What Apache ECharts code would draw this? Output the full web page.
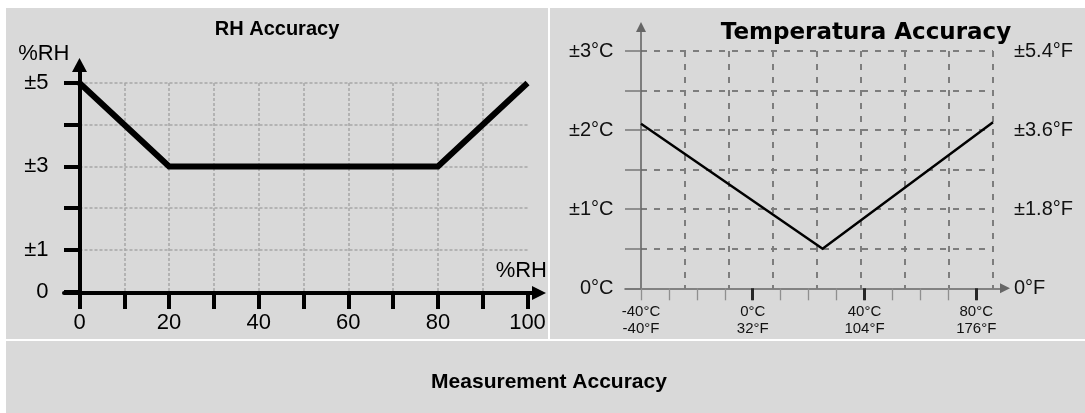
<!DOCTYPE html>
<html><head><meta charset="utf-8">
<script src="https://cdn.jsdelivr.net/npm/echarts@6/dist/echarts.min.js"></script>
<style>html,body{margin:0;padding:0;background:#fff}#c{width:1085px;height:413px}</style>
</head><body><div id="c"></div>
<script>
// ---------- data ----------
const rhX = [0, 20, 80, 100];
const rhY = [5, 3, 3, 5];
const rhXTickValues = [0, 20, 40, 60, 80, 100];
const rhXTickLabels = ['0', '20', '40', '60', '80', '100'];
const rhYTickValues = [0, 1, 3, 5];
const rhYTickLabels = ['0', '±1', '±3', '±5'];

const tempX = [-40, 25, 86];
const tempY = [2.08, 0.5, 2.1];
const tempMinorTicks = [-40, -30, -20, -10, 0, 10, 20, 30, 40, 50, 60, 70, 80];
const tempMajorTicks = [0, 40, 80];
const tempTickValues = [-40, 0, 40, 80];
const tempTickLabelsC = ['-40°C', '0°C', '40°C', '80°C'];
const tempTickLabelsF = ['-40°F', '32°F', '104°F', '176°F'];
const tempCValues = [0, 1, 2, 3];
const tempCLabels = ['0°C', '±1°C', '±2°C', '±3°C'];
const tempFValues = [0, 1.8, 3.6, 5.4];
const tempFLabels = ['0°F', '±1.8°F', '±3.6°F', '±5.4°F'];

const titles = ['RH Accuracy', 'Temperatura Accuracy', 'Measurement Accuracy'];

// ---------- helpers ----------
const SANS = "'Liberation Sans', Arial, sans-serif";
function lookup(values, labels) {
  return function (v) {
    for (let i = 0; i < values.length; i++) if (Math.abs(values[i] - v) < 1e-6) return labels[i];
    return '';
  };
}
const off = { show: false };
function bareAxis(extra) {
  return Object.assign({ type: 'value', axisLine: off, axisTick: off, axisLabel: off, splitLine: off, nameMoveOverlap: false }, extra);
}

const chart = echarts.init(document.getElementById('c'));
chart.setOption({
  backgroundColor: '#ffffff',
  animation: false,
  graphic: [
    { type: 'rect', z: -100, silent: true, shape: { x: 6, y: 8, width: 542, height: 331 }, style: { fill: '#d9d9d9' } },
    { type: 'rect', z: -100, silent: true, shape: { x: 550, y: 8, width: 535, height: 331 }, style: { fill: '#d9d9d9' } },
    { type: 'rect', z: -100, silent: true, shape: { x: 6, y: 341, width: 1079, height: 72 }, style: { fill: '#d9d9d9' } }
  ],
  title: [
    { text: titles[0], left: 277, top: 19, padding: 0, textAlign: 'center',
      textStyle: { fontFamily: SANS, fontWeight: 'bold', fontSize: 20, color: '#000' } },
    { text: titles[1], left: 866, top: 22, padding: 0, textAlign: 'center',
      textStyle: { fontFamily: "'DejaVu Sans', sans-serif", fontWeight: 'bold', fontSize: 23, color: '#000' } },
    { text: titles[2], left: 549, top: 372, padding: 0, textAlign: 'center',
      textStyle: { fontFamily: SANS, fontWeight: 'bold', fontSize: 21, color: '#000' } }
  ],
  grid: [
    { left: 79.5, top: 83, width: 448, height: 208.5, outerBoundsMode: 'none' },
    { left: 64, top: 65, width: 475, height: 228, outerBoundsMode: 'none' },
    { left: 641, top: 51, width: 352, height: 237.3, outerBoundsMode: 'none' },
    { left: 625, top: 27, width: 380, height: 261.3, outerBoundsMode: 'none' }
  ],
  xAxis: [
    // 0: RH data axis
    bareAxis({ gridIndex: 0, min: 0, max: 100, interval: 10, position: 'bottom',
      axisTick: { show: true, inside: false, length: 17.5, lineStyle: { color: '#000', width: 4 } },
      axisLabel: { show: true, margin: 20, fontFamily: SANS, fontSize: 22, color: '#000',
        formatter: lookup(rhXTickValues, rhXTickLabels) },
      splitLine: { show: true, showMinLine: false, showMaxLine: false,
        lineStyle: { color: '#a6a6a6', width: 1.5, type: [3, 2] } } }),
    // 1: RH arrow axis line
    bareAxis({ gridIndex: 1, min: 0, max: 1, position: 'bottom',
      axisLine: { show: true, onZero: false, symbol: ['none', 'triangle'], symbolSize: [14, 14],
        lineStyle: { color: '#000', width: 4 } },
      name: '%RH', nameLocation: 'end', nameGap: 8,
      nameTextStyle: { align: 'right', verticalAlign: 'bottom', padding: [0, 0, 11, 0],
        fontFamily: SANS, fontSize: 22, color: '#000' } }),
    // 2: Temperature data axis, minor ticks + labels
    bareAxis({ gridIndex: 2, min: -40, max: 86, position: 'bottom',
      axisLine: { show: false, onZero: false },
      axisTick: { show: true, inside: false, length: 12, customValues: tempMinorTicks,
        lineStyle: { color: '#8f8f8f', width: 1.3 } },
      axisLabel: { show: true, margin: 15, customValues: tempTickValues, fontFamily: SANS, fontSize: 15,
        lineHeight: 17, color: '#111',
        formatter: function (v) {
          const i = tempTickValues.indexOf(v);
          return i < 0 ? '' : tempTickLabelsC[i] + '\n' + tempTickLabelsF[i];
        } } }),
    // 3: Temperature major ticks
    bareAxis({ gridIndex: 2, min: -40, max: 86, position: 'bottom',
      axisLine: { show: false, onZero: false },
      axisTick: { show: true, inside: false, length: 12, customValues: tempMajorTicks,
        lineStyle: { color: '#262626', width: 3 } } }),
    // 4: Temperature vertical grid lines (8 equal divisions)
    bareAxis({ gridIndex: 2, min: 0, max: 8, interval: 1, position: 'top',
      axisLine: { show: false, onZero: false },
      splitLine: { show: true, showMinLine: false, showMaxLine: true,
        lineStyle: { color: '#7d7d7d', width: 2, type: [6, 7] } } }),
    // 5: Temperature arrow axis line
    bareAxis({ gridIndex: 3, min: 0, max: 1, position: 'bottom',
      axisLine: { show: true, onZero: false, symbol: ['none', 'triangle'], symbolSize: [10, 10],
        lineStyle: { color: '#666', width: 1.6 } } })
  ],
  yAxis: [
    // 0: RH data axis
    bareAxis({ gridIndex: 0, min: 0, max: 5, interval: 1, position: 'left',
      axisTick: { show: true, inside: false, length: 15.5, lineStyle: { color: '#000', width: 4 } },
      axisLabel: { show: true, margin: 31, fontFamily: SANS, fontSize: 22, color: '#000',
        formatter: lookup(rhYTickValues, rhYTickLabels) },
      splitLine: { show: true, showMinLine: false, showMaxLine: true,
        lineStyle: { color: '#a6a6a6', width: 1.5, type: [3, 2] } } }),
    // 1: RH arrow axis line
    bareAxis({ gridIndex: 1, min: 0, max: 1, offset: -15.5, position: 'left',
      axisLine: { show: true, onZero: false, symbol: ['none', 'triangle'], symbolSize: [15, 14],
        lineStyle: { color: '#000', width: 4 } },
      name: '%RH', nameLocation: 'end', nameGap: 0,
      nameTextStyle: { align: 'right', verticalAlign: 'bottom', padding: [0, 10, 0, 0],
        fontFamily: SANS, fontSize: 22, color: '#000' } }),
    // 2: Temperature °C
    bareAxis({ gridIndex: 2, min: 0, max: 3, interval: 0.5, position: 'left',
      axisLine: { show: false, onZero: false },
      axisTick: { show: true, inside: false, length: 16, lineStyle: { color: '#777', width: 1.5 } },
      axisLabel: { show: true, margin: 27.5, fontFamily: SANS, fontSize: 20, color: '#111',
        formatter: lookup(tempCValues, tempCLabels) },
      splitLine: { show: true, showMinLine: false, showMaxLine: true,
        lineStyle: { color: '#7d7d7d', width: 2, type: [6, 7] } } }),
    // 3: Temperature °F (right)
    bareAxis({ gridIndex: 2, min: 0, max: 5.4, interval: 1.8, position: 'right',
      axisLine: { show: false, onZero: false },
      axisLabel: { show: true, margin: 21, fontFamily: SANS, fontSize: 20, color: '#111',
        formatter: lookup(tempFValues, tempFLabels) } }),
    // 4: Temperature arrow axis line
    bareAxis({ gridIndex: 3, min: 0, max: 1, offset: -16, position: 'left',
      axisLine: { show: true, onZero: false, symbol: ['none', 'triangle'], symbolSize: [10, 10],
        lineStyle: { color: '#666', width: 1.6 } } })
  ],
  series: [
    { type: 'line', xAxisIndex: 0, yAxisIndex: 0, clip: false, symbol: 'none', z: 5,
      data: rhX.map((x, i) => [x, rhY[i]]),
      lineStyle: { color: '#000', width: 6, join: 'miter', cap: 'butt' } },
    { type: 'line', xAxisIndex: 2, yAxisIndex: 2, clip: false, symbol: 'none', z: 5,
      data: tempX.map((x, i) => [x, tempY[i]]),
      lineStyle: { color: '#000', width: 2.5, join: 'miter' } }
  ]
});
</script>
</body></html>
